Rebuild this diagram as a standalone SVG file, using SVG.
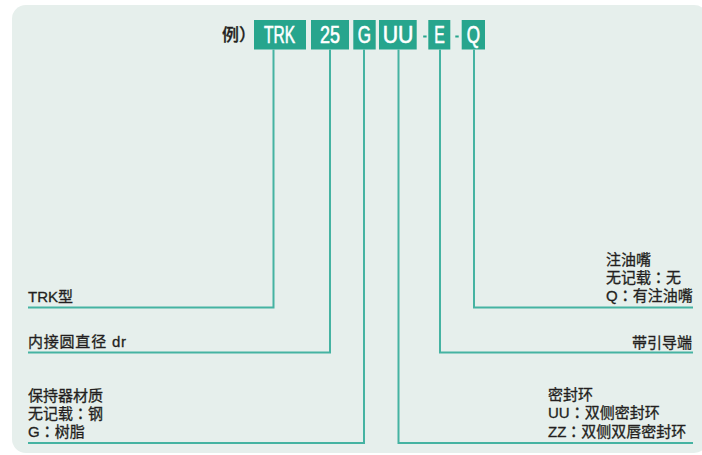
<svg xmlns="http://www.w3.org/2000/svg" width="702" height="455" viewBox="0 0 702 455">
  <style>
    .bg { fill: #e6efec; }
    .box { fill: #27a58d; }
    .bt { font-family: "Liberation Sans", "Noto Sans CJK SC", sans-serif; font-size: 23px; fill: #ffffff; stroke: #ffffff; stroke-width: 0.6px; text-anchor: middle; }
    .dash { fill: #27a58d; }
    .lbl { font-family: "Liberation Sans", "Noto Sans CJK SC", sans-serif; font-size: 15px; fill: #231f20; stroke: #231f20; stroke-width: 0.3px; }
    .c { font-family: "Noto Sans CJK JP", sans-serif; }
    .r { text-anchor: end; }
    .conn { fill: none; stroke: #45b3a2; stroke-width: 2; }
  </style>
  <rect class="bg" x="12" y="5" width="696" height="448" rx="14"/>

  <g id="example-label">
    <text x="222" y="41" font-family="'Noto Sans CJK SC', sans-serif" font-size="17" font-weight="500" fill="#231f20" stroke="#231f20" stroke-width="0.3">例）</text>
  </g>
  <g id="box-TRK">
    <rect class="box" x="254" y="20" width="52" height="29.5"/>
    <text class="bt" x="279.5" y="43.3" textLength="31" lengthAdjust="spacingAndGlyphs">TRK</text>
  </g>
  <g id="box-25">
    <rect class="box" x="311" y="20" width="38" height="29.5"/>
    <text class="bt" x="330" y="43.3" textLength="20" lengthAdjust="spacingAndGlyphs">25</text>
  </g>
  <g id="box-G">
    <rect class="box" x="353.3" y="20" width="22.4" height="29.5"/>
    <text class="bt" x="364.5" y="43.3" textLength="13.3" lengthAdjust="spacingAndGlyphs">G</text>
  </g>
  <g id="box-UU">
    <rect class="box" x="379" y="20" width="37.7" height="29.5"/>
    <text class="bt" x="398" y="43.3" textLength="30.7" lengthAdjust="spacingAndGlyphs">UU</text>
  </g>
  <g id="dash-1"><rect class="dash" x="423.2" y="35.5" width="3.4" height="2"/></g>
  <g id="box-E">
    <rect class="box" x="428.3" y="20" width="22" height="29.5"/>
    <text class="bt" x="439.5" y="43.3" textLength="10.5" lengthAdjust="spacingAndGlyphs">E</text>
  </g>
  <g id="dash-2"><rect class="dash" x="455.3" y="35.5" width="3.4" height="2"/></g>
  <g id="box-Q">
    <rect class="box" x="461.7" y="20" width="23.3" height="29.5"/>
    <text class="bt" x="473.4" y="43.3" textLength="13.3" lengthAdjust="spacingAndGlyphs">Q</text>
  </g>

  <g id="connectors">
    <path class="conn" d="M273.5 49.5 V307.5 H28"/>
    <path class="conn" d="M330 49.5 V352.5 H28"/>
    <path class="conn" d="M364 49.5 V443 H28"/>
    <path class="conn" d="M398.5 49.5 V443 H693"/>
    <path class="conn" d="M440 49.5 V352.5 H693"/>
    <path class="conn" d="M474 49.5 V307.5 H693"/>
  </g>

  <g id="label-TRK">
    <text class="lbl" x="28" y="302">TRK型</text>
  </g>
  <g id="label-dr">
    <text class="lbl" x="28" y="347" textLength="98" lengthAdjust="spacing">内接圆直径 dr</text>
  </g>
  <g id="label-cage">
    <text class="lbl" x="28" y="401">保持器材质</text>
    <text class="lbl" x="28" y="419">无记载<tspan class="c">：</tspan>钢</text>
    <text class="lbl" x="28" y="437">G<tspan class="c">：</tspan>树脂</text>
  </g>
  <g id="label-nipple">
    <text class="lbl" x="606" y="265">注油嘴</text>
    <text class="lbl" x="606" y="283">无记载<tspan class="c">：</tspan>无</text>
    <text class="lbl" x="606" y="301">Q<tspan class="c">：</tspan>有注油嘴</text>
  </g>
  <g id="label-guide">
    <text class="lbl r" x="692" y="348">带引导端</text>
  </g>
  <g id="label-seal">
    <text class="lbl" x="548" y="400">密封环</text>
    <text class="lbl" x="548" y="418">UU<tspan class="c">：</tspan>双侧密封环</text>
    <text class="lbl" x="548" y="436.5">ZZ<tspan class="c">：</tspan>双侧双唇密封环</text>
  </g>
</svg>
